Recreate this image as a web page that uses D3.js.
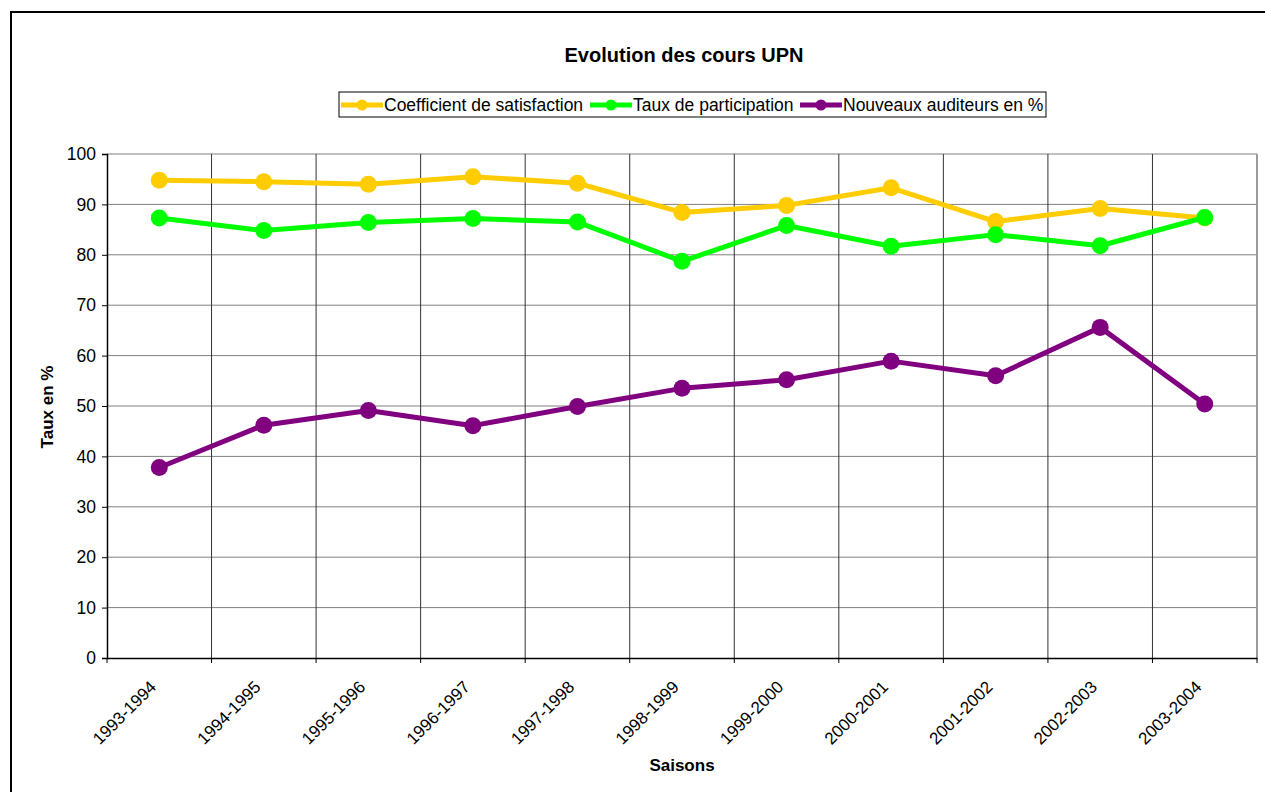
<!DOCTYPE html>
<html>
<head>
<meta charset="utf-8">
<script src="https://cdn.jsdelivr.net/npm/d3@7"></script>
<style>
  body { margin: 0; background: #fff; }
  text { font-family: "Liberation Sans", Arial, sans-serif; }
</style>
</head>
<body>
<svg width="1265" height="792"></svg>
<script>
const seasons = ['1993-1994', '1994-1995', '1995-1996', '1996-1997', '1997-1998', '1998-1999',
  '1999-2000', '2000-2001', '2001-2002', '2002-2003', '2003-2004'];
const satisfaction = [94.8, 94.5, 94.0, 95.5, 94.2, 88.4, 89.8, 93.3, 86.6, 89.2, 87.3];
const participation = [87.3, 84.8, 86.4, 87.2, 86.5, 78.7, 85.8, 81.7, 84.0, 81.8, 87.4];
const nouveaux = [37.8, 46.2, 49.1, 46.1, 49.9, 53.5, 55.2, 58.9, 56.0, 65.6, 50.4];
const yTicks = [0, 10, 20, 30, 40, 50, 60, 70, 80, 90, 100];

const series = [
  {name: 'Coefficient de satisfaction', color: '#FFCC00', values: satisfaction},
  {name: 'Taux de participation', color: '#00FF00', values: participation},
  {name: 'Nouveaux auditeurs en %', color: '#800080', values: nouveaux}
];

const svg = d3.select('svg');
const margin = {top: 154, right: 8, bottom: 134, left: 107};
const width = 1265 - margin.left - margin.right,
    height = 792 - margin.top - margin.bottom;

// outer frame
svg.append('rect')
    .attr('x', 11).attr('y', 12)
    .attr('width', 1265).attr('height', 800)
    .attr('fill', 'none').attr('stroke', '#000').attr('stroke-width', 2);

svg.append('text')
    .attr('x', 684).attr('y', 62)
    .attr('text-anchor', 'middle')
    .style('font-size', '20px').style('font-weight', 'bold')
    .text('Evolution des cours UPN');

const x = d3.scaleBand().domain(seasons).range([0, width]);
const y = d3.scaleLinear().domain([0, 100]).range([height, 0]);

const g = svg.append('g')
    .attr('transform', 'translate(' + margin.left + ',' + margin.top + ')');

// horizontal gridlines
g.append('g')
  .selectAll('line').data(yTicks.slice(1)).enter().append('line')
    .attr('x1', 0).attr('x2', width)
    .attr('y1', d => y(d)).attr('y2', d => y(d))
    .attr('stroke', '#808080').attr('stroke-width', 1);

// vertical gridlines at band edges
g.append('g')
  .selectAll('line').data(seasons.slice(1)).enter().append('line')
    .attr('x1', d => x(d)).attr('x2', d => x(d))
    .attr('y1', 0).attr('y2', height)
    .attr('stroke', '#333').attr('stroke-width', 1);

// plot border right
g.append('line')
    .attr('x1', width).attr('x2', width).attr('y1', 0).attr('y2', height)
    .attr('stroke', '#999').attr('stroke-width', 2);

// y axis
const yAxis = g.append('g')
    .call(d3.axisLeft(y).tickValues(yTicks).tickSize(5).tickPadding(6));
yAxis.select('.domain').attr('stroke', '#000').attr('stroke-width', 1.5);
yAxis.selectAll('.tick line').attr('stroke', '#000');
yAxis.selectAll('text').style('font-size', '17.5px').attr('fill', '#000');

// x axis
const xAxis = g.append('g')
    .attr('transform', 'translate(0,' + height + ')')
    .call(d3.axisBottom(x).tickSize(0).tickFormat(''));
xAxis.select('.domain').attr('stroke', '#000').attr('stroke-width', 1.5);
xAxis.selectAll('.tick').remove();
xAxis.selectAll('line.edge').data(seasons.concat(['end'])).enter().append('line')
    .attr('class', 'edge')
    .attr('x1', (d, i) => i * x.step()).attr('x2', (d, i) => i * x.step())
    .attr('y1', 0).attr('y2', 5)
    .attr('stroke', '#000');
xAxis.selectAll('text.lbl').data(seasons).enter().append('text')
    .attr('class', 'lbl')
    .attr('text-anchor', 'end')
    .attr('transform', d => 'translate(' + (x(d) + x.bandwidth() / 2 - 2) + ',30) rotate(-45)')
    .style('font-size', '17px')
    .attr('fill', '#000')
    .text(d => d);

// axis titles
svg.append('text')
    .attr('transform', 'translate(53,' + 407 + ') rotate(-90)')
    .attr('text-anchor', 'middle')
    .style('font-size', '17px').style('font-weight', 'bold')
    .text('Taux en %');
svg.append('text')
    .attr('x', 682).attr('y', 771)
    .attr('text-anchor', 'middle')
    .style('font-size', '17px').style('font-weight', 'bold')
    .text('Saisons');

// lines and markers
const line = d3.line()
    .x((d, i) => x(seasons[i]) + x.bandwidth() / 2)
    .y(d => y(d));

series.forEach(s => {
  g.append('path')
      .datum(s.values)
      .attr('fill', 'none')
      .attr('stroke', s.color)
      .attr('stroke-width', 5)
      .attr('stroke-linejoin', 'round')
      .attr('d', line);
  g.append('g')
    .selectAll('circle').data(s.values).enter().append('circle')
      .attr('cx', (d, i) => x(seasons[i]) + x.bandwidth() / 2)
      .attr('cy', d => y(d))
      .attr('r', 8.5)
      .attr('fill', s.color);
});

// legend
const legend = svg.append('g').attr('transform', 'translate(339,92)');
legend.append('rect')
    .attr('width', 707).attr('height', 25)
    .attr('fill', '#fff').attr('stroke', '#000').attr('stroke-width', 1);
const legendX = [2, 251, 461];
series.forEach((s, i) => {
  const lg = legend.append('g').attr('transform', 'translate(' + legendX[i] + ',13)');
  lg.append('line').attr('x1', 0).attr('x2', 42).attr('stroke', s.color).attr('stroke-width', 5);
  lg.append('circle').attr('cx', 21).attr('r', 5.5).attr('fill', s.color);
  lg.append('text').attr('x', 43).attr('y', 6)
      .style('font-size', '17.5px').text(s.name);
});
</script>
</body>
</html>
